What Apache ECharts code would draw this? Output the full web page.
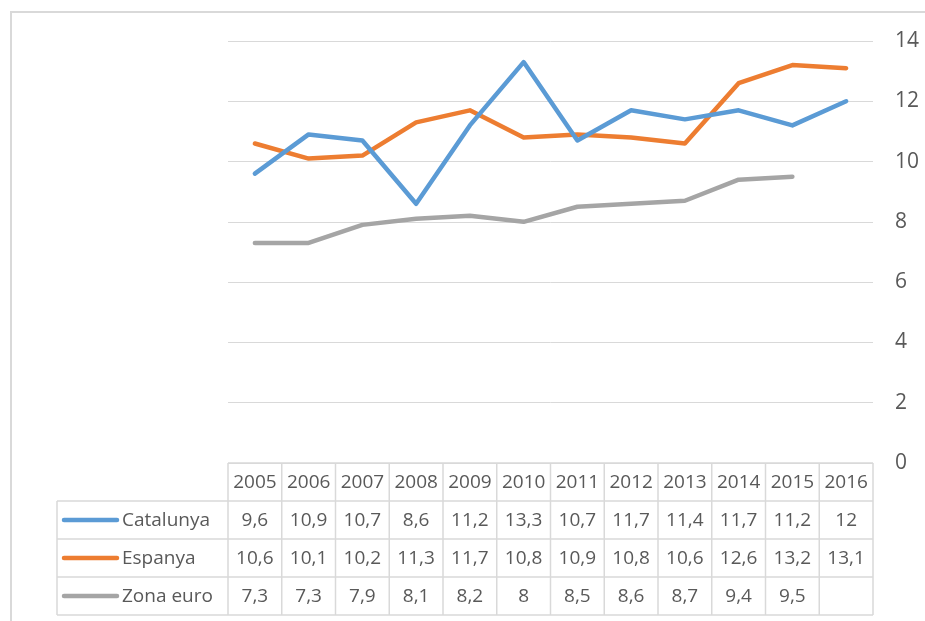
<!DOCTYPE html>
<html>
<head>
<meta charset="utf-8">
<script src="https://cdn.jsdelivr.net/npm/echarts@6/dist/echarts.min.js"></script>
<style>
html,body{margin:0;padding:0;background:#fff;}
#chart{width:925px;height:621px;}
</style>
</head>
<body>
<div id="chart"></div>
<script>
// ---- data ----
var years = ['2005','2006','2007','2008','2009','2010','2011','2012','2013','2014','2015','2016'];
var seriesNames = ['Catalunya','Espanya','Zona euro'];
var catalunya = [9.6,10.9,10.7,8.6,11.2,13.3,10.7,11.7,11.4,11.7,11.2,12];
var espanya = [10.6,10.1,10.2,11.3,11.7,10.8,10.9,10.8,10.6,12.6,13.2,13.1];
var zonaEuro = [7.3,7.3,7.9,8.1,8.2,8,8.5,8.6,8.7,9.4,9.5,null];
var yTicks = [0,2,4,6,8,10,12,14];

// ---- style / layout ----
var colors = ['#5B9BD5','#ED7D31','#A5A5A5'];
var textColor = '#595959';
var gridColor = '#D9D9D9';
var fontFam = '"Open Sans", sans-serif';
var plotLeft = 228, plotRight = 873, plotTop = 41, plotBottom = 463;
var rowH = 38, tableLeft = 57;

var chart = echarts.init(document.getElementById('chart'), null, {renderer:'canvas'});
var allData = [catalunya, espanya, zonaEuro];

chart.setOption({
  animation:false,
  backgroundColor:'#fff',
  grid:{left:plotLeft, right:925-plotRight, top:plotTop, bottom:621-plotBottom, containLabel:false},
  xAxis:{type:'category', data:years, boundaryGap:true,
    axisLine:{show:false}, axisTick:{show:false}, axisLabel:{show:false}, splitLine:{show:false}},
  yAxis:{type:'value', position:'right', min:yTicks[0], max:yTicks[yTicks.length-1], interval:2,
    axisLine:{show:false}, axisTick:{show:false},
    axisLabel:{color:textColor, fontSize:21, fontFamily:fontFam, margin:22, align:'left'},
    splitLine:{lineStyle:{color:gridColor, width:1}}},
  series: seriesNames.map(function(n,i){
    return {name:n, type:'line', data:allData[i], symbol:'none', smooth:false,
      connectNulls:false,
      lineStyle:{color:colors[i], width:4.5, cap:'round', join:'round'}, z:3+ (2-i)};
  })
});

// ---- data table via graphic ----
var g = [];
var lineStyle = {stroke:gridColor, lineWidth:1.5};
function hline(x1,x2,y){ g.push({type:'line', shape:{x1:x1,y1:y,x2:x2,y2:y}, style:lineStyle, silent:true}); }
function vline(x,y1,y2){ g.push({type:'line', shape:{x1:x,y1:y1,x2:x,y2:y2}, style:lineStyle, silent:true}); }
var nRows = seriesNames.length;
var tableBottom = plotBottom + rowH*(nRows+1);
hline(plotLeft, plotRight, plotBottom);
for (var r=1; r<=nRows+1; r++) hline(tableLeft, plotRight, plotBottom + rowH*r);
vline(tableLeft, plotBottom+rowH, tableBottom);
var colW = (plotRight-plotLeft)/years.length;
for (var c=0; c<=years.length; c++) vline(plotLeft + colW*c, plotBottom, tableBottom);

function fmt(v){ return v==null ? '' : String(v).replace('.', ','); }
years.forEach(function(y,ci){
  var cx = chart.convertToPixel({xAxisIndex:0}, y);
  g.push({type:'text', x:cx, y:plotBottom+rowH/2+1, silent:true,
    style:{text:y, fill:textColor, font:'19px '+fontFam, align:'center', verticalAlign:'middle'}});
  allData.forEach(function(arr,ri){
    g.push({type:'text', x:cx, y:plotBottom+rowH*(ri+1)+rowH/2+1, silent:true,
      style:{text:fmt(arr[ci]), fill:textColor, font:'19px '+fontFam, align:'center', verticalAlign:'middle'}});
  });
});
seriesNames.forEach(function(n,ri){
  var cy = plotBottom+rowH*(ri+1)+rowH/2;
  g.push({type:'line', shape:{x1:tableLeft+7,y1:cy,x2:tableLeft+60,y2:cy}, silent:true,
    style:{stroke:colors[ri], lineWidth:4.5, lineCap:'round'}});
  g.push({type:'text', x:tableLeft+65, y:cy+1, silent:true,
    style:{text:n, fill:textColor, font:'19px '+fontFam, align:'left', verticalAlign:'middle'}});
});
// outer chart border
g.push({type:'rect', shape:{x:11,y:12,width:1000,height:700}, silent:true, z:-1,
  style:{fill:null, stroke:gridColor, lineWidth:2}});

chart.setOption({graphic:g});
</script>
</body>
</html>
